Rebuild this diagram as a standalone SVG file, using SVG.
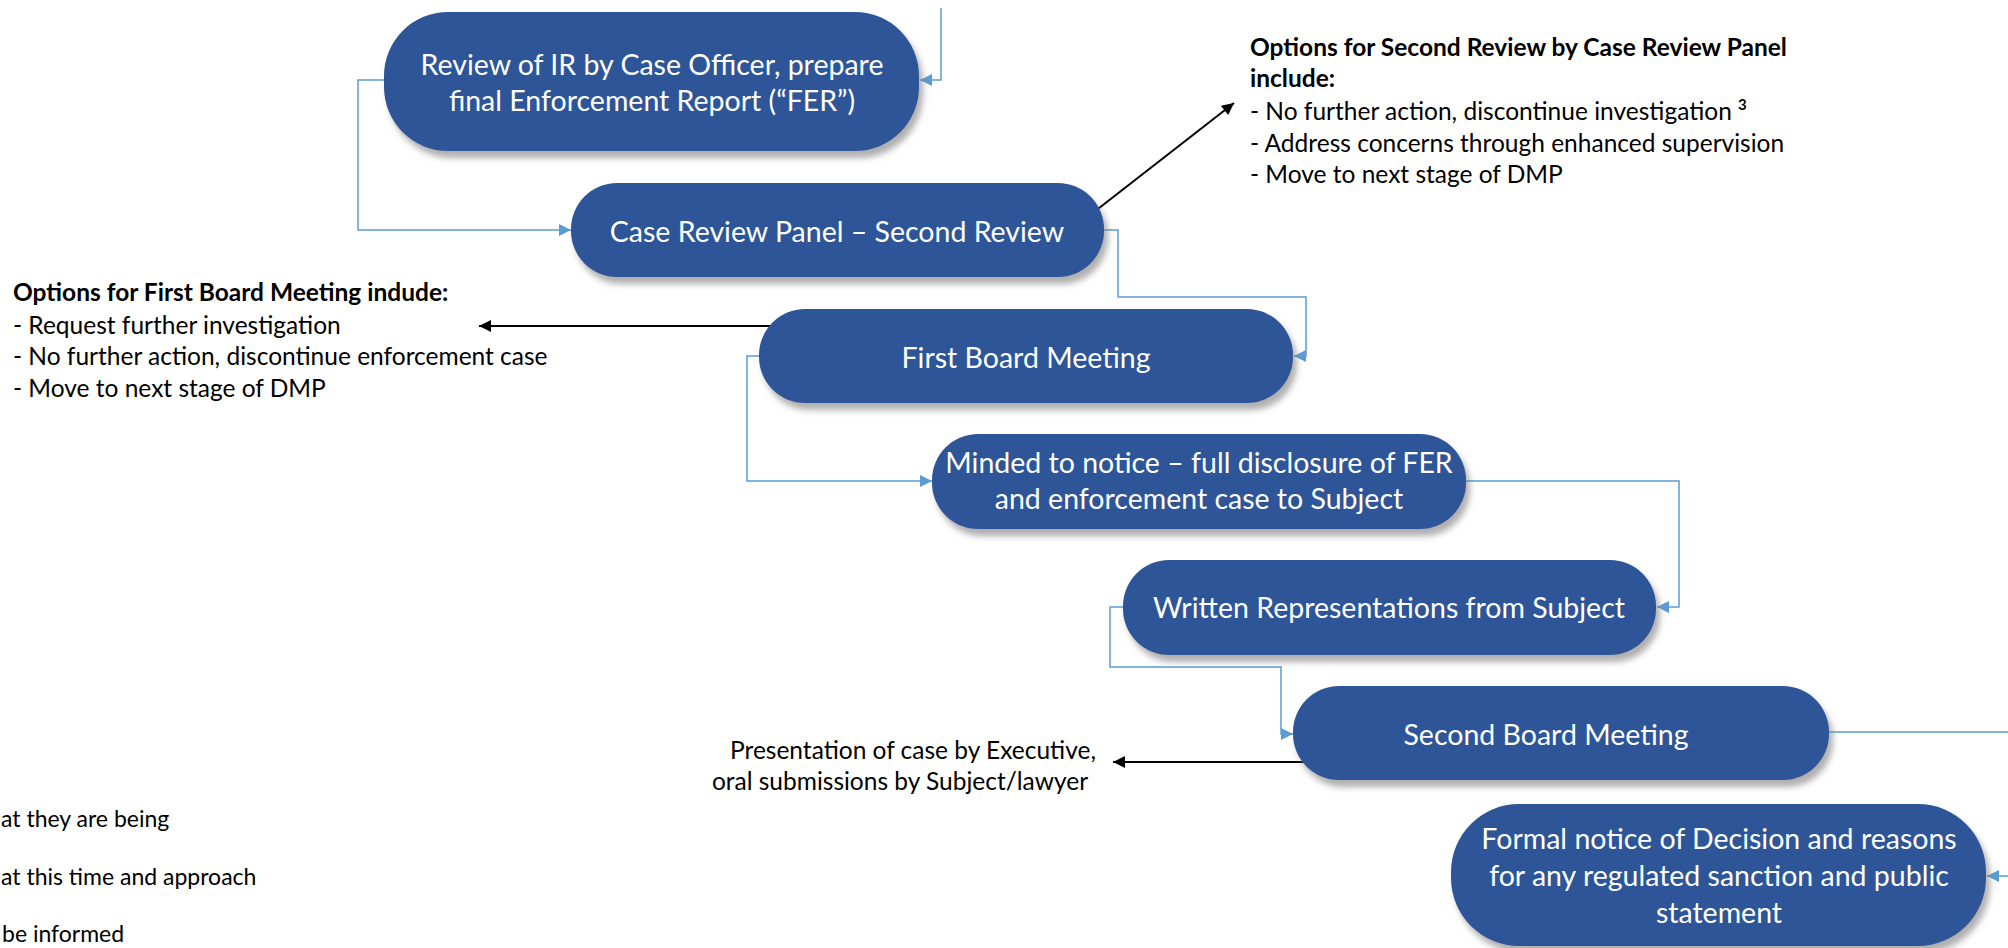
<svg xmlns="http://www.w3.org/2000/svg" width="2008" height="948" viewBox="0 0 2008 948">
  <defs>
    <style>
      .node { fill: #2F5597; filter: url(#shadow); }
      .ntext { font-family: Lato, "Liberation Sans", sans-serif; font-size: 28.5px; fill: #ffffff; text-anchor: middle; }
      .note { font-family: Lato, "Liberation Sans", sans-serif; font-size: 24.5px; fill: #000000; }
      .note-b { font-weight: bold; }
      .frag { font-size: 23px; }
      .flow { fill: none; stroke: #5B9BD5; stroke-width: 1.5; marker-end: url(#blueArrow); }
      .flow-open { fill: none; stroke: #5B9BD5; stroke-width: 1.5; }
      .pointer { fill: none; stroke: #000000; stroke-width: 2; marker-end: url(#blackArrow); }
    </style>
    <filter id="shadow" x="-10%" y="-20%" width="125%" height="150%">
      <feDropShadow dx="4" dy="7" stdDeviation="3" flood-color="#7a7a7a" flood-opacity="0.6"/>
    </filter>
    <marker id="blueArrow" viewBox="0 0 10 10" refX="10" refY="5" markerUnits="userSpaceOnUse" markerWidth="12" markerHeight="14" orient="auto">
      <path d="M0,0 L10,5 L0,10 z" fill="#5B9BD5"/>
    </marker>
    <marker id="blackArrow" viewBox="0 0 10 10" refX="10" refY="5" markerUnits="userSpaceOnUse" markerWidth="15" markerHeight="12" orient="auto">
      <path d="M0,0 L10,5 L0,10 z" fill="#000000"/>
    </marker>
  </defs>

  <rect x="0" y="0" width="2008" height="948" fill="#ffffff"/>

  <!-- connectors -->
  <g id="connectors">
    <path class="flow" d="M941,8 V80 H920"/>
    <path class="flow" d="M384,80 H358 V230 H571"/>
    <path class="flow" d="M1104,230 H1118 V297 H1306 V356 H1294"/>
    <path class="flow" d="M759,356 H747 V481 H932"/>
    <path class="flow" d="M1466,481 H1679 V607 H1657"/>
    <path class="flow" d="M1123,607 H1110 V667 H1281 V734 H1293"/>
    <path class="flow-open" d="M1829,732 H2010"/>
    <path class="flow" d="M2010,876 H1987"/>
    <path class="pointer" d="M1094,212 L1234,103"/>
    <path class="pointer" d="M776,326 H479"/>
    <path class="pointer" d="M1309,762 H1113"/>
  </g>

  <!-- process steps -->
  <g id="step-review-ir">
    <rect class="node" x="384" y="12" width="535" height="139" rx="64" ry="64"/>
    <text class="ntext" x="652" y="75">Review of IR by Case Officer, prepare</text>
    <text class="ntext" x="652" y="111">final Enforcement Report (“FER”)</text>
  </g>

  <g id="step-second-review">
    <rect class="node" x="571" y="183" width="533" height="94" rx="46" ry="46"/>
    <text class="ntext" x="837" y="242">Case Review Panel – Second Review</text>
  </g>

  <g id="step-first-board">
    <rect class="node" x="759" y="309" width="534" height="94" rx="46" ry="46"/>
    <text class="ntext" x="1026" y="368">First Board Meeting</text>
  </g>

  <g id="step-minded-notice">
    <rect class="node" x="932" y="434" width="534" height="95" rx="46" ry="46"/>
    <text class="ntext" x="1199" y="473">Minded to notice – full disclosure of FER</text>
    <text class="ntext" x="1199" y="509">and enforcement case to Subject</text>
  </g>

  <g id="step-written-reps">
    <rect class="node" x="1123" y="560" width="533" height="95" rx="46" ry="46"/>
    <text class="ntext" x="1389" y="618">Written Representations from Subject</text>
  </g>

  <g id="step-second-board">
    <rect class="node" x="1293" y="686" width="536" height="94" rx="46" ry="46"/>
    <text class="ntext" x="1546" y="745">Second Board Meeting</text>
  </g>

  <g id="step-formal-notice">
    <rect class="node" x="1451" y="804" width="535" height="142" rx="68" ry="68"/>
    <text class="ntext" x="1719" y="849">Formal notice of Decision and reasons</text>
    <text class="ntext" x="1719" y="886">for any regulated sanction and public</text>
    <text class="ntext" x="1719" y="923">statement</text>
  </g>

  <!-- annotations -->
  <g id="note-second-review">
    <text class="note note-b" x="1250" y="56">Options for Second Review by Case Review Panel</text>
    <text class="note note-b" x="1250" y="87">include:</text>
    <text class="note" x="1250" y="120">- No further action, discontinue investigation <tspan font-size="15" font-weight="bold" dy="-10">3</tspan></text>
    <text class="note" x="1250" y="152">- Address concerns through enhanced supervision</text>
    <text class="note" x="1250" y="183">- Move to next stage of DMP</text>
  </g>

  <g id="note-first-board">
    <text class="note note-b" x="13" y="301">Options for First Board Meeting indude:</text>
    <text class="note" x="13" y="334">- Request further investigation</text>
    <text class="note" x="13" y="365">- No further action, discontinue enforcement case</text>
    <text class="note" x="13" y="397">- Move to next stage of DMP</text>
  </g>

  <g id="note-second-board">
    <text class="note" x="913" y="759" text-anchor="middle">Presentation of case by Executive,</text>
    <text class="note" x="900" y="790" text-anchor="middle">oral submissions by Subject/lawyer</text>
  </g>

  <g id="note-left-fragments">
    <text class="note frag" x="1" y="827">at they are being</text>
    <text class="note frag" x="1" y="885">at this time and approach</text>
    <text class="note frag" x="2" y="942">be informed</text>
  </g>
</svg>
